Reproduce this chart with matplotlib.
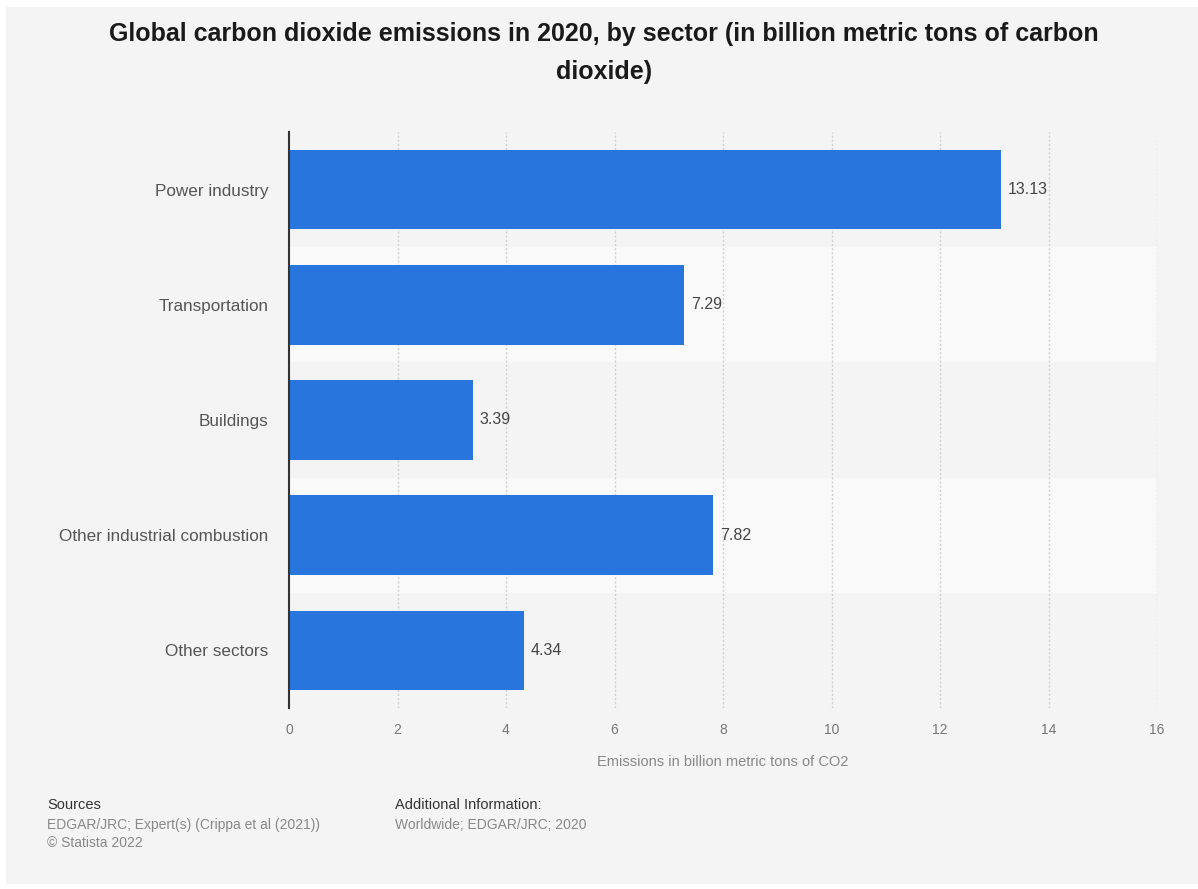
import matplotlib
matplotlib.use('Agg')
from matplotlib import pyplot as plt
from matplotlib.patches import Rectangle

sectors = ['Power industry', 'Transportation', 'Buildings',
           'Other industrial combustion', 'Other sectors']
emissions = [13.13, 7.29, 3.39, 7.82, 4.34]
x_ticks = [0, 2, 4, 6, 8, 10, 12, 14, 16]

title = 'Global carbon dioxide emissions in 2020, by sector (in billion metric tons of carbon\ndioxide)'
x_label = 'Emissions in billion metric tons of CO2'

plt.rcParams['font.family'] = ['Liberation Sans', 'DejaVu Sans']

W, H = 1198, 889
fig = plt.figure(figsize=(W / 100, H / 100), dpi=100, facecolor='white')

# gray card behind everything
fig.patches.append(Rectangle((6 / W, 1 - 884 / H), (W - 6) / W, (884 - 7) / H,
                             transform=fig.transFigure, facecolor='#f4f4f4',
                             edgecolor='none', zorder=-10))

# plot area in pixels: x 289..1157, y 132..708
left, right, top, bottom = 289, 1157, 132, 708
ax = fig.add_axes([left / W, 1 - bottom / H, (right - left) / W, (bottom - top) / H])
ax.set_facecolor('none')

n = len(sectors)
ypos = list(range(n))
ax.set_ylim(n - 0.5, -0.5)
ax.set_xlim(0, 16)

# alternating row bands
for i in ypos:
    ax.axhspan(i - 0.5, i + 0.5, xmin=0, xmax=1,
               color='#f4f4f4' if i % 2 == 0 else '#f9f9f9', zorder=0, lw=0)

for xt in x_ticks[1:]:
    ax.axvline(xt, color='#d0d0d0', lw=1, ls=(0, (1.5, 1.5)), zorder=1)

bars = ax.barh(ypos, emissions, height=0.69, color='#2876dd', zorder=2)
for b, v in zip(bars, emissions):
    ax.text(v + 0.12, b.get_y() + b.get_height() / 2, f'{v:.2f}',
            va='center', ha='left', fontsize=11.5, color='#444444', zorder=3)

ax.set_yticks(ypos)
ax.set_yticklabels(sectors, fontsize=12.3, color='#555555')
ax.set_xticks(x_ticks)
ax.set_xticklabels([str(t) for t in x_ticks], fontsize=10, color='#777777')
ax.tick_params(axis='both', length=0)
ax.tick_params(axis='y', pad=15)
ax.tick_params(axis='x', pad=11)

for s in ['top', 'right', 'bottom']:
    ax.spines[s].set_visible(False)
ax.spines['left'].set_color('#333333')
ax.spines['left'].set_linewidth(1.5)
ax.spines['left'].set_zorder(4)

ax.set_xlabel(x_label, fontsize=10.5, color='#888888')
ax.xaxis.set_label_coords((723 - left) / (right - left), -(755 - bottom) / (bottom - top))

fig.text(604 / W, 1 - 53 / H, title, ha='center', va='center', fontsize=18,
         fontweight='bold', color='#1a1a1a', linespacing=1.75)

fig.text(47 / W, 1 - 805 / H, 'Sources', fontsize=10.5, color='#333333', va='center')
fig.text(47 / W, 1 - 825 / H, 'EDGAR/JRC; Expert(s) (Crippa et al (2021))',
         fontsize=10, color='#888888', va='center')
fig.text(47 / W, 1 - 843 / H, '\u00a9 Statista 2022', fontsize=10, color='#888888', va='center')
fig.text(395 / W, 1 - 805 / H, 'Additional Information:', fontsize=10.5, color='#333333', va='center')
fig.text(395 / W, 1 - 825 / H, 'Worldwide; EDGAR/JRC; 2020', fontsize=10, color='#888888', va='center')

fig.savefig('out.png', dpi=100, facecolor='white')
